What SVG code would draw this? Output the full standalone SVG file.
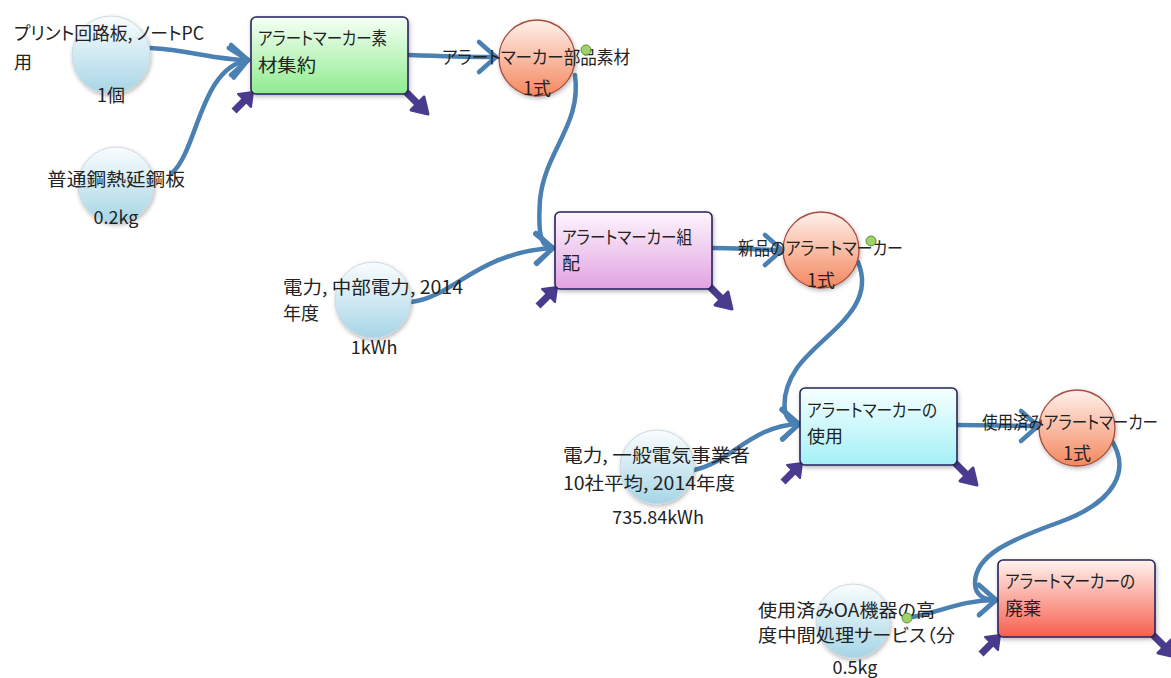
<svg xmlns="http://www.w3.org/2000/svg" xmlns:xlink="http://www.w3.org/1999/xlink" width="1171" height="678" viewBox="0 0 1171 678">
<defs>
<style>
text{font-family:"Noto Sans CJK JP","Noto Sans",sans-serif;font-size:18px;fill:#222;font-feature-settings:"palt";}
.val{text-anchor:middle;}
.conn{fill:none;stroke:#4a80b2;stroke-width:4.5;stroke-linecap:round;}
.arr{marker-end:url(#chev);}
.box{stroke:#25245c;stroke-width:1.6;}
.cb{stroke:#cdd9df;stroke-width:1;fill:url(#gBlue);filter:url(#sh);}
.co{stroke:#a94b3c;stroke-width:1.3;fill:url(#gOrange);filter:url(#sh);}
.tab{fill:#4a3b8f;stroke:#4a3b8f;stroke-linejoin:round;}
.dot{fill:#9fd36a;stroke:#5f8f3a;stroke-width:1;}
</style>
<filter id="sh" x="-20%" y="-20%" width="150%" height="150%">
<feDropShadow dx="1" dy="2" stdDeviation="2" flood-color="#000" flood-opacity="0.28"/>
</filter>
<linearGradient id="gBlue" x1="0" y1="0" x2="0" y2="1"><stop offset="0" stop-color="#fafdfe"/><stop offset="1" stop-color="#a6d5e6"/></linearGradient>
<linearGradient id="gOrange" x1="0" y1="0" x2="0" y2="1"><stop offset="0" stop-color="#fff1eb"/><stop offset="1" stop-color="#f4875e"/></linearGradient>
<linearGradient id="gGreen" x1="0" y1="0" x2="0" y2="1"><stop offset="0" stop-color="#f6fff6"/><stop offset="1" stop-color="#8eec8e"/></linearGradient>
<linearGradient id="gPurple" x1="0" y1="0" x2="0" y2="1"><stop offset="0" stop-color="#fdf5fd"/><stop offset="1" stop-color="#e1a2e1"/></linearGradient>
<linearGradient id="gCyan" x1="0" y1="0" x2="0" y2="1"><stop offset="0" stop-color="#f6ffff"/><stop offset="1" stop-color="#a4f1f6"/></linearGradient>
<linearGradient id="gRed" x1="0" y1="0" x2="0" y2="1"><stop offset="0" stop-color="#fff3ef"/><stop offset="1" stop-color="#f75e4e"/></linearGradient>
<marker id="chev" markerUnits="userSpaceOnUse" viewBox="-24 -20 30 40" markerWidth="30" markerHeight="40" refX="0" refY="0" orient="auto" overflow="visible">
<path d="M -17,-15 L 0,0 L -17,15" fill="none" stroke="#4a80b2" stroke-width="4.5" stroke-linecap="round" stroke-linejoin="round"/>
</marker>
<g id="tabIn">
<path d="M -17,17 L -6,6" stroke="#4a3b8f" stroke-width="7"/>
<path class="tab" stroke-width="2" d="M -13,0 L 2,-2 L 0,13 Z"/>
</g>
<g id="tabOut">
<path d="M -4,-4 L 10,10" stroke="#4a3b8f" stroke-width="7"/>
<path class="tab" stroke-width="3" d="M 16,3 L 3,16 L 20,20 Z"/>
</g>
</defs>
<rect width="1171" height="678" fill="#ffffff"/>

<g id="connectors">
<path class="conn arr" d="M 150,48 C 190,50 215,60 248,60"/>
<path class="conn arr" d="M 172,173 C 198,150 200,68 248,60"/>
<path class="conn arr" d="M 409,55 C 440,56 465,57 496,57"/>
<path class="conn arr" d="M 575,75 C 582,125 545,150 540,200 C 538,232 540,248 553,248"/>
<path class="conn arr" d="M 411,302 C 452,298 478,252 553,248"/>
<path class="conn arr" d="M 712,248 C 735,248 760,250 782,250"/>
<path class="conn arr" d="M 858,262 C 878,310 820,335 797,368 C 780,393 780,424 799,424"/>
<path class="conn arr" d="M 694,470 C 732,462 750,426 799,424"/>
<path class="conn arr" d="M 957,425 C 985,425 1010,426 1038,426"/>
<path class="conn arr" d="M 1110,438 C 1132,470 1115,502 1060,522 C 1010,540 975,555 975,583 C 975,596 985,600 996,600"/>
<path class="conn arr" d="M 906,618 C 940,613 960,600 996,600"/>
</g>

<g id="n_pcb">
<circle class="cb" cx="111" cy="55" r="39"/>
<text x="14" y="40" textLength="190" lengthAdjust="spacingAndGlyphs">プリント回路板, ノートPC</text>
<text x="14" y="69">用</text>
<text class="val" x="111" y="102">1個</text>
</g>

<g id="n_steel">
<circle class="cb" cx="116" cy="185" r="38"/>
<text x="47" y="186" textLength="138" lengthAdjust="spacingAndGlyphs">普通鋼熱延鋼板</text>
<text class="val" x="116" y="224">0.2kg</text>
</g>

<g id="p_material">
<use xlink:href="#tabIn" x="251" y="94"/>
<use xlink:href="#tabOut" x="408" y="94"/>
<rect class="box" x="251" y="17" width="157" height="77" rx="5" fill="url(#gGreen)" filter="url(#sh)"/>
<text x="258" y="45" textLength="129" lengthAdjust="spacingAndGlyphs">アラートマーカー素</text>
<text x="258" y="72" textLength="58" lengthAdjust="spacingAndGlyphs">材集約</text>
</g>

<g id="f_parts">
<circle class="co" cx="537" cy="58" r="38"/>
<text x="442" y="64" textLength="188" lengthAdjust="spacingAndGlyphs">アラートマーカー部品素材</text>
<text class="val" x="537" y="95">1式</text>
<circle class="dot" cx="586" cy="50" r="5"/>
</g>

<g id="n_elec1">
<circle class="cb" cx="373" cy="300" r="38"/>
<text x="283" y="294" textLength="180" lengthAdjust="spacingAndGlyphs">電力, 中部電力, 2014</text>
<text x="283" y="320">年度</text>
<text class="val" x="374" y="354">1kWh</text>
</g>

<g id="p_assembly">
<use xlink:href="#tabIn" x="555" y="289"/>
<use xlink:href="#tabOut" x="712" y="289"/>
<rect class="box" x="555" y="212" width="157" height="77" rx="5" fill="url(#gPurple)" filter="url(#sh)"/>
<text x="562" y="244" textLength="130" lengthAdjust="spacingAndGlyphs">アラートマーカー組</text>
<text x="562" y="270">配</text>
</g>

<g id="f_new">
<circle class="co" cx="821" cy="250" r="38"/>
<text x="738" y="255" textLength="165" lengthAdjust="spacingAndGlyphs">新品のアラートマーカー</text>
<text class="val" x="821" y="287">1式</text>
<circle class="dot" cx="871" cy="241" r="5"/>
</g>

<g id="n_elec2">
<circle class="cb" cx="657" cy="467" r="37"/>
<text x="563" y="462" textLength="187" lengthAdjust="spacingAndGlyphs">電力, 一般電気事業者</text>
<text x="563" y="490" textLength="172" lengthAdjust="spacingAndGlyphs">10社平均, 2014年度</text>
<text class="val" x="658" y="524">735.84kWh</text>
</g>

<g id="p_use">
<use xlink:href="#tabIn" x="800" y="465"/>
<use xlink:href="#tabOut" x="957" y="465"/>
<rect class="box" x="800" y="388" width="157" height="77" rx="5" fill="url(#gCyan)" filter="url(#sh)"/>
<text x="807" y="417" textLength="130" lengthAdjust="spacingAndGlyphs">アラートマーカーの</text>
<text x="807" y="443">使用</text>
</g>

<g id="f_used">
<circle class="co" cx="1077" cy="428" r="38"/>
<text x="982" y="429" textLength="176" lengthAdjust="spacingAndGlyphs">使用済みアラートマーカー</text>
<text class="val" x="1077" y="460">1式</text>
</g>

<g id="n_oa">
<circle class="cb" cx="853" cy="621" r="37"/>
<text x="758" y="617" textLength="177" lengthAdjust="spacingAndGlyphs">使用済みOA機器の高</text>
<text x="758" y="642" textLength="197" lengthAdjust="spacingAndGlyphs">度中間処理サービス（分</text>
<text class="val" x="855" y="674">0.5kg</text>
<circle class="dot" cx="907" cy="618" r="5"/>
</g>

<g id="p_disposal">
<use xlink:href="#tabIn" x="998" y="637"/>
<use xlink:href="#tabOut" x="1155" y="637"/>
<rect class="box" x="998" y="560" width="157" height="77" rx="5" fill="url(#gRed)" filter="url(#sh)"/>
<text x="1005" y="588" textLength="130" lengthAdjust="spacingAndGlyphs">アラートマーカーの</text>
<text x="1005" y="615">廃棄</text>
</g>
</svg>
